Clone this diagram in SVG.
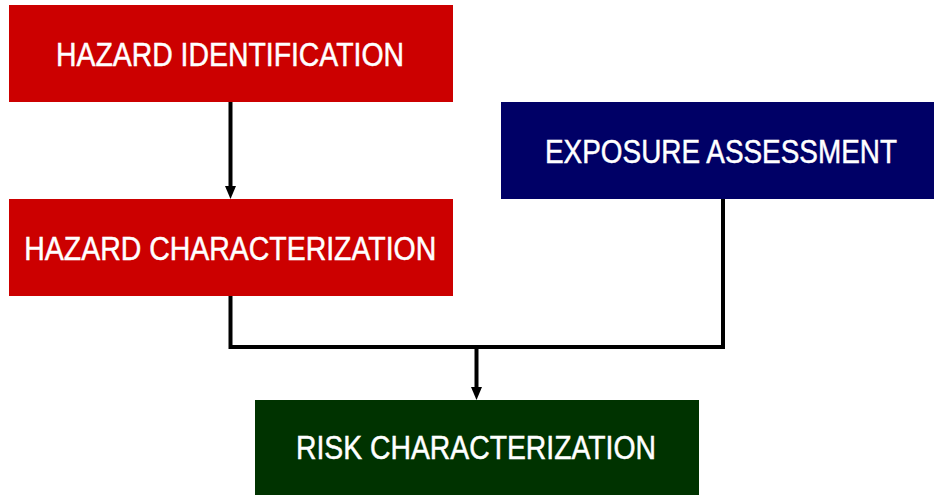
<svg xmlns="http://www.w3.org/2000/svg" width="934" height="495" viewBox="0 0 934 495">
  <style>
    .label { font-family: "Liberation Sans Narrow", "Liberation Sans", Arial, sans-serif; font-size: 34px; fill: #ffffff; stroke: #ffffff; stroke-width: 0.5; text-anchor: middle; }
    .hazard { fill: #cc0000; }
    .exposure { fill: #000066; }
    .risk { fill: #003300; }
    .wire { fill: none; stroke: #000000; stroke-width: 4; }
  </style>
  <defs>
    <marker id="arrow" markerUnits="userSpaceOnUse" markerWidth="13" markerHeight="11" refX="0" refY="5.5" orient="auto">
      <path d="M0,0 L13,5.5 L0,11 z" fill="#000000"/>
    </marker>
  </defs>
  <rect width="934" height="495" fill="#ffffff"/>

  <g id="connectors">
    <path class="wire" d="M230.5 102 V186" marker-end="url(#arrow)"/>
    <path class="wire" d="M230.5 296 V347 H723 V199"/>
    <path class="wire" d="M476.5 347 V387" marker-end="url(#arrow)"/>
  </g>

  <g id="hazard-identification">
    <rect class="hazard" x="9" y="5" width="444" height="97"/>
    <text class="label" x="230" y="66" textLength="348" lengthAdjust="spacingAndGlyphs">HAZARD IDENTIFICATION</text>
  </g>

  <g id="hazard-characterization">
    <rect class="hazard" x="9" y="199" width="444" height="97"/>
    <text class="label" x="230.3" y="260" textLength="412" lengthAdjust="spacingAndGlyphs">HAZARD CHARACTERIZATION</text>
  </g>

  <g id="exposure-assessment">
    <rect class="exposure" x="501" y="102" width="433" height="97"/>
    <text class="label" x="721" y="162.7" textLength="352" lengthAdjust="spacingAndGlyphs">EXPOSURE ASSESSMENT</text>
  </g>

  <g id="risk-characterization">
    <rect class="risk" x="255" y="400" width="444" height="95"/>
    <text class="label" x="476" y="459" textLength="360" lengthAdjust="spacingAndGlyphs">RISK CHARACTERIZATION</text>
  </g>
</svg>
